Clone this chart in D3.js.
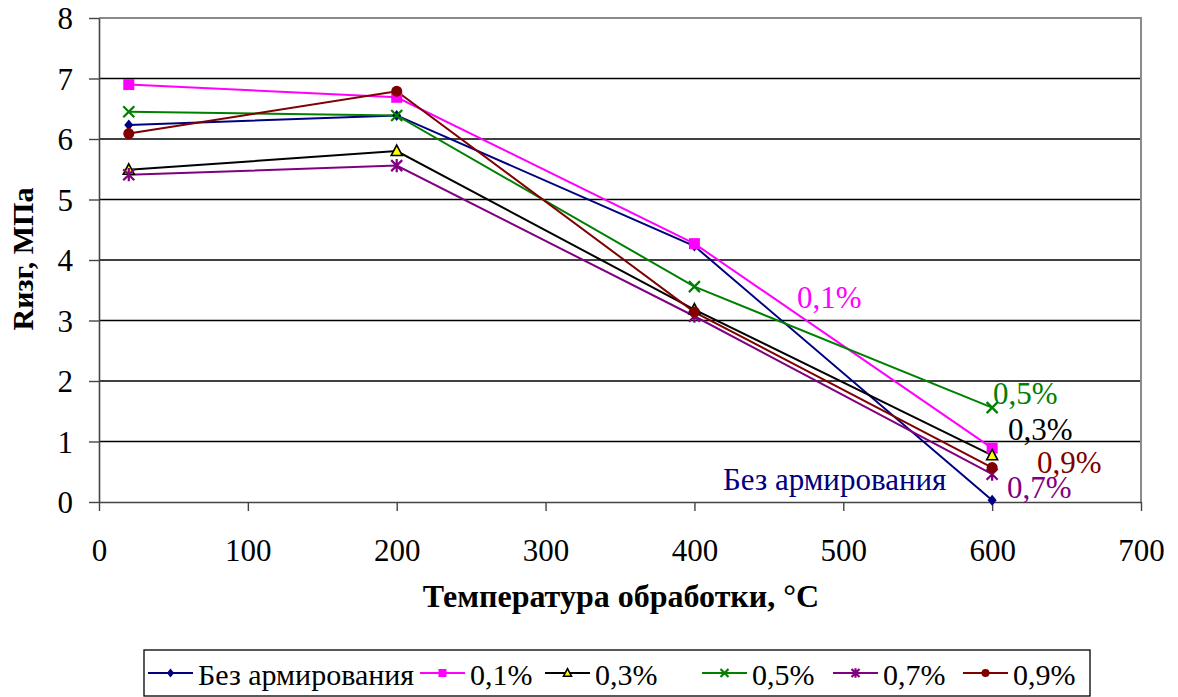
<!DOCTYPE html>
<html>
<head>
<meta charset="utf-8">
<script src="https://cdn.jsdelivr.net/npm/d3@7"></script>
<style>
  html, body { margin: 0; padding: 0; background: #fff; }
  svg { display: block; }
  text { font-family: "Liberation Serif", "Times New Roman", serif; }
</style>
</head>
<body>
<svg id="chart" width="1178" height="697"></svg>
<script>
// Temperature of treatment, °C
const temps = [20, 200, 400, 600];

// Flexural strength, MPa, per reinforcement level
const seriesNames = ["Без армирования", "0,1%", "0,3%", "0,5%", "0,7%", "0,9%"];
const noReinf = [6.23, 6.39, 4.23, 0.03];
const fiber01 = [6.90, 6.69, 4.27, 0.89];
const fiber03 = [5.49, 5.80, 3.18, 0.77];
const fiber05 = [6.45, 6.39, 3.56, 1.56];
const fiber07 = [5.41, 5.56, 3.07, 0.46];
const fiber09 = [6.09, 6.79, 3.14, 0.57];

const xTicks = [0, 100, 200, 300, 400, 500, 600, 700];
const yTicks = [0, 1, 2, 3, 4, 5, 6, 7, 8];

const colors = ["#000080", "#FF00FF", "#000000", "#008000", "#800080", "#800000"];
const markers = ["diamond", "square", "triangle", "cross", "star", "circle"];
const allValues = [noReinf, fiber01, fiber03, fiber05, fiber07, fiber09];

// Labels placed beside the line ends: [series index, x, baseline y]
const endLabels = [
  [1, 797, 308],
  [3, 993, 404],
  [2, 1008, 440],
  [5, 1037, 473],
  [4, 1007, 498],
  [0, 723, 490]
];

const svg = d3.select("#chart");
const plotL = 99, plotR = 1141, plotT = 18, plotB = 502;

const x = d3.scaleLinear().domain([0, 700]).range([plotL, plotR]);
const y = d3.scaleLinear().domain([0, 8]).range([plotB, plotT]);

// horizontal gridlines
svg.append("g").selectAll("line")
  .data(yTicks.filter(d => d > 0 && d < 8))
  .join("line")
  .attr("x1", plotL).attr("x2", plotR)
  .attr("y1", d => y(d)).attr("y2", d => y(d))
  .attr("stroke", "#000").attr("stroke-width", 1.3);

// plot frame (top and right)
svg.append("path")
  .attr("d", `M${plotL},${plotT}H${plotR}V${plotB}`)
  .attr("fill", "none").attr("stroke", "#8a8a8a").attr("stroke-width", 2);

// axes
const yAxis = d3.axisLeft(y).tickValues(yTicks).tickSize(10).tickSizeOuter(0).tickPadding(16);
const gy = svg.append("g").attr("transform", `translate(${plotL},0)`).call(yAxis);
const xAxis = d3.axisBottom(x).tickValues(xTicks).tickSize(9).tickSizeOuter(0).tickPadding(28);
const gx = svg.append("g").attr("transform", `translate(0,${plotB})`).call(xAxis);

[gx, gy].forEach(g => {
  g.attr("font-family", null).attr("font-size", null);
  g.select(".domain").attr("stroke", "#444").attr("stroke-width", 1.6);
  g.selectAll(".tick line").attr("stroke", "#444").attr("stroke-width", 1.4);
  g.selectAll(".tick text")
    .attr("fill", "#000")
    .style("font-size", "31px");
});
gy.selectAll(".tick text").attr("dy", "0.35em");
gx.selectAll(".tick text").attr("dy", "0.71em");

// axis titles
svg.append("text")
  .attr("x", 621).attr("y", 607)
  .attr("text-anchor", "middle")
  .style("font-size", "32px").style("font-weight", "bold")
  .text("Температура обработки, °С");

svg.append("text")
  .attr("transform", "translate(33,259) rotate(-90)")
  .attr("text-anchor", "middle")
  .style("font-size", "30px").style("font-weight", "bold")
  .text("Rизг, МПа");

// marker shapes
function drawMarker(g, type, color, size) {
  const s = size;
  switch (type) {
    case "diamond":
      g.append("path").attr("d", `M0,${-s*0.55}L${s*0.45},0L0,${s*0.55}L${-s*0.45},0Z`).attr("fill", color);
      break;
    case "square":
      g.append("rect").attr("x", -s/2).attr("y", -s/2).attr("width", s).attr("height", s).attr("fill", color);
      break;
    case "triangle":
      g.append("path").attr("d", `M0,${-s*0.55}L${s*0.5},${s*0.4}L${-s*0.5},${s*0.4}Z`)
        .attr("fill", "#FFFF00").attr("stroke", "#000").attr("stroke-width", 1.6);
      break;
    case "cross":
      g.append("path").attr("d", `M${-s/2},${-s/2}L${s/2},${s/2}M${-s/2},${s/2}L${s/2},${-s/2}`)
        .attr("stroke", color).attr("stroke-width", 2.2);
      break;
    case "star":
      g.append("path").attr("d", `M${-s/2},${-s/2}L${s/2},${s/2}M${-s/2},${s/2}L${s/2},${-s/2}M0,${-s*0.6}V${s*0.6}`)
        .attr("stroke", color).attr("stroke-width", 2.2);
      break;
    case "circle":
      g.append("circle").attr("r", s*0.5).attr("fill", color);
      break;
  }
}

// series lines and markers
const line = d3.line().x((d, i) => x(temps[i])).y(d => y(d));
allValues.forEach((vals, si) => {
  svg.append("path")
    .datum(vals)
    .attr("d", line)
    .attr("fill", "none")
    .attr("stroke", colors[si])
    .attr("stroke-width", 2);
});
allValues.forEach((vals, si) => {
  vals.forEach((v, i) => {
    const g = svg.append("g").attr("transform", `translate(${x(temps[i])},${y(v)})`);
    drawMarker(g, markers[si], colors[si], si === 0 ? 10 : 11);
  });
});

// series labels beside the line ends
endLabels.forEach(([si, lx, ly]) => {
  svg.append("text")
    .attr("x", lx).attr("y", ly)
    .attr("fill", colors[si])
    .style("font-size", "31px")
    .text(seriesNames[si]);
});

// legend
const legend = svg.append("g");
legend.append("rect")
  .attr("x", 144).attr("y", 650).attr("width", 946).attr("height", 46)
  .attr("fill", "#fff").attr("stroke", "#000").attr("stroke-width", 1.3);
const legendX = [148, 420, 545, 702, 833, 963];
seriesNames.forEach((name, si) => {
  const lx = legendX[si];
  const g = legend.append("g");
  g.append("line").attr("x1", lx).attr("x2", lx + 45).attr("y1", 673).attr("y2", 673)
    .attr("stroke", colors[si]).attr("stroke-width", 2);
  const m = g.append("g").attr("transform", `translate(${lx + 22.5},673)`);
  drawMarker(m, markers[si], colors[si], 8);
  g.append("text").attr("x", lx + 50).attr("y", 685)
    .style("font-size", "30px").attr("fill", "#000").text(name);
});
</script>
</body>
</html>
